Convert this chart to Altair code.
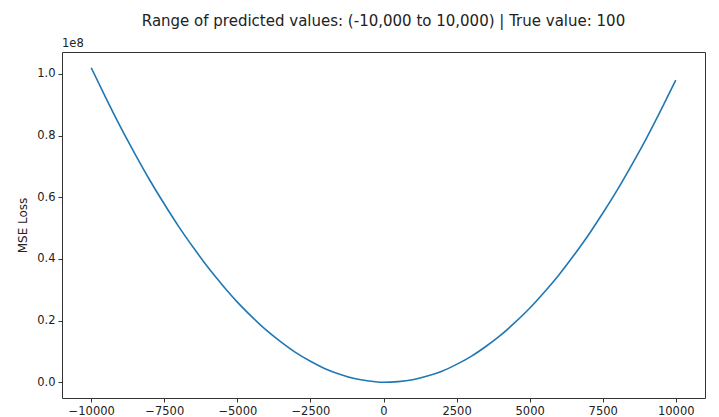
import altair as alt
import pandas as pd

# Predicted values (x) and MSE loss (in units of 1e8)
predicted = [-10000, -9500, -9000, -8500, -8000, -7500, -7000, -6500, -6000, -5500,
             -5000, -4500, -4000, -3500, -3000, -2500, -2000, -1500, -1000, -500,
             0, 500, 1000, 1500, 2000, 2500, 3000, 3500, 4000, 4500,
             5000, 5500, 6000, 6500, 7000, 7500, 8000, 8500, 9000, 9500, 10000]
mse_loss = [1.020, 0.922, 0.828, 0.740, 0.656, 0.578, 0.504, 0.436, 0.372, 0.314,
            0.260, 0.212, 0.168, 0.130, 0.096, 0.068, 0.044, 0.026, 0.012, 0.004,
            0.000, 0.002, 0.008, 0.020, 0.036, 0.058, 0.084, 0.116, 0.152, 0.194,
            0.240, 0.292, 0.348, 0.410, 0.476, 0.548, 0.624, 0.706, 0.792, 0.884, 0.980]
x_ticks = [-10000, -7500, -5000, -2500, 0, 2500, 5000, 7500, 10000]
y_ticks = [0.0, 0.2, 0.4, 0.6, 0.8, 1.0]
title_text = "Range of predicted values: (-10,000 to 10,000) | True value: 100"
y_title = "MSE Loss"
offset_text = "1e8"

df = pd.DataFrame({"predicted": predicted, "loss": mse_loss})

line = alt.Chart(df).mark_line(color="#1f77b4", strokeWidth=1.6, interpolate="monotone").encode(
    x=alt.X("predicted:Q",
            scale=alt.Scale(domain=[-11000, 11000], nice=False, zero=False),
            axis=alt.Axis(values=x_ticks, format="d", title=None)),
    y=alt.Y("loss:Q",
            scale=alt.Scale(domain=[-0.051, 1.071], nice=False, zero=False),
            axis=alt.Axis(values=y_ticks, format=".1f", title=y_title)),
)

offset_label = alt.Chart(pd.DataFrame({"t": [offset_text]})).mark_text(
    align="left", baseline="bottom", fontSize=11.5, font="DejaVu Sans", color="#222"
).encode(x=alt.value(0), y=alt.value(-3), text="t:N")

chart = alt.layer(line, offset_label).properties(
    width=643, height=346,
    title=alt.TitleParams(title_text, anchor="middle", fontSize=15, font="DejaVu Sans",
                          fontWeight="normal", color="#222", offset=9),
    autosize=alt.AutoSizeParams(type="none"),
    padding={"left": 54, "top": 44, "right": 6, "bottom": 20},
).configure_view(
    stroke="#333", strokeWidth=1
).configure_axis(
    grid=False, domain=False, tickColor="#333", tickSize=4, tickWidth=1,
    labelFont="DejaVu Sans", labelFontSize=11.5, labelColor="#222", labelPadding=3,
    titleFont="DejaVu Sans", titleFontSize=12, titleColor="#222", titleFontWeight="normal",
).configure_axisY(titlePadding=7)

chart.save("out.html", embed_options={"renderer": "svg", "actions": False})
